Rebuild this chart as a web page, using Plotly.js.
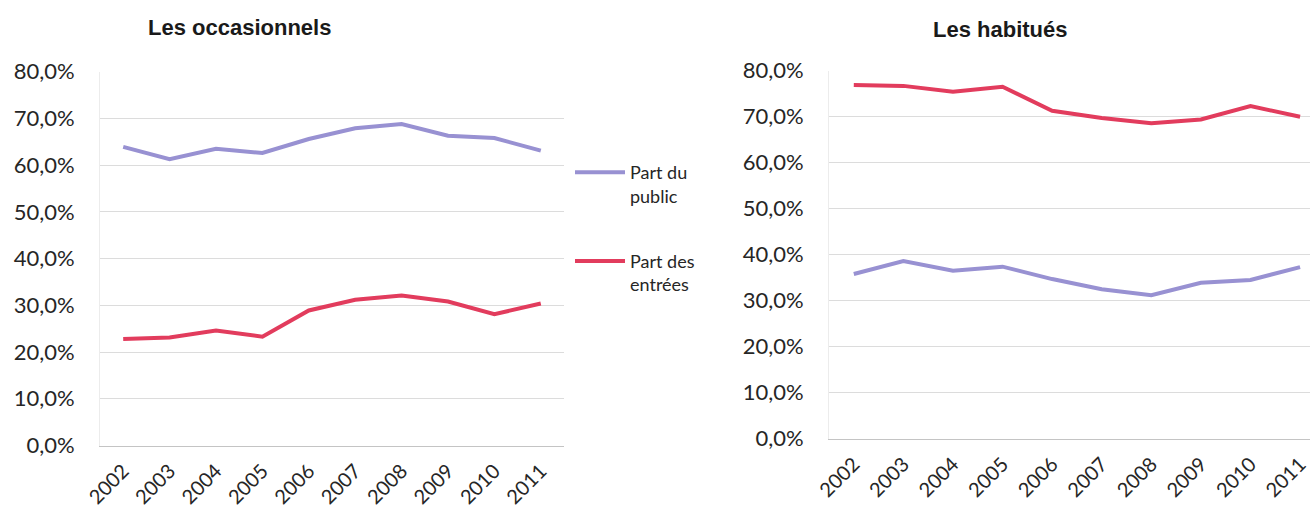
<!DOCTYPE html>
<html lang="fr">
<head>
<meta charset="utf-8">
<script src="https://cdn.plot.ly/plotly-3.0.1.min.js"></script>
<style>
  html, body { margin: 0; padding: 0; background: #ffffff; overflow: hidden; }
  #chart { width: 1310px; height: 517px; }
</style>
</head>
<body>
<div id="chart"></div>
<script>
// Années
const years = ['2002', '2003', '2004', '2005', '2006', '2007', '2008', '2009', '2010', '2011'];

// Les occasionnels
const occPublic  = [0.639, 0.613, 0.635, 0.626, 0.656, 0.679, 0.688, 0.663, 0.658, 0.631];
const occEntrees = [0.228, 0.231, 0.246, 0.233, 0.289, 0.312, 0.321, 0.308, 0.281, 0.304];

// Les habitués
const habPublic  = [0.358, 0.386, 0.365, 0.374, 0.347, 0.325, 0.312, 0.339, 0.345, 0.373];
const habEntrees = [0.769, 0.767, 0.754, 0.765, 0.713, 0.697, 0.686, 0.694, 0.723, 0.700];

const seriesNames = ['Part du<br>public', 'Part des<br>entrées'];
const panelTitles = ['Les occasionnels', 'Les habitués'];

const colPublic = '#9891d2';
const colEntrees = '#e23c5d';
const W = 1310, H = 517;

const tickFont = { family: 'Lato, "Open Sans", sans-serif', size: 22, color: '#262626' };
const yearFont = { family: 'Lato, "Open Sans", sans-serif', size: 20, color: '#262626' };
const titleFont = { family: '"Liberation Sans", Arial, sans-serif', size: 22, color: '#1a1a1a', weight: 'bold' };

function line(x, y, name, color, xa, ya, show, group) {
  return {
    type: 'scatter', mode: 'lines', x: x, y: y, name: name,
    xaxis: xa, yaxis: ya, showlegend: show, legendgroup: group,
    line: { color: color, width: 4, shape: 'linear' },
    hoverinfo: 'skip'
  };
}

const traces = [
  line(years, occPublic, seriesNames[0], colPublic, 'x', 'y', true, 'g1'),
  line(years, occEntrees, seriesNames[1], colEntrees, 'x', 'y', true, 'g2'),
  line(years, habEntrees, seriesNames[1], colEntrees, 'x2', 'y2', false, 'g2'),
  line(years, habPublic, seriesNames[0], colPublic, 'x2', 'y2', false, 'g1')
];

function yAxis(domain, anchor) {
  return {
    domain: domain, anchor: anchor, range: [0, 0.8], dtick: 0.1,
    tickformat: '.1%', tickfont: tickFont, ticklabelstandoff: 20,
    showgrid: true, gridcolor: '#dcdcdc', gridwidth: 1,
    zeroline: false, showline: true, linecolor: '#ececec', linewidth: 1,
    ticks: '', fixedrange: true
  };
}

function xAxis(domain, anchor, range) {
  return {
    domain: domain, anchor: anchor, type: 'category', range: range,
    tickangle: -45, tickfont: yearFont, showgrid: false, zeroline: false,
    showline: true, linecolor: '#c4c4c4', linewidth: 1,
    ticks: '', ticklabelstandoff: 5, fixedrange: true
  };
}

const layout = {
  width: W, height: H,
  margin: { l: 0, r: 0, t: 0, b: 0 },
  paper_bgcolor: '#ffffff', plot_bgcolor: '#ffffff',
  separators: ', ',
  hovermode: false,
  xaxis:  xAxis([100 / W, 564 / W], 'y', [-0.5, 9.5]),
  yaxis:  yAxis([71.5 / H, 445.3 / H], 'x'),
  xaxis2: xAxis([829 / W, 1], 'y2', [-0.5, 9.2]),
  yaxis2: yAxis([78.3 / H, 446.3 / H], 'x2'),
  showlegend: true,
  legend: {
    x: 570 / W, y: 1 - 154 / H, xanchor: 'left', yanchor: 'top',
    bgcolor: 'rgba(0,0,0,0)', borderwidth: 0,
    font: { family: 'Lato, "Open Sans", sans-serif', size: 18, color: '#262626' },
    itemwidth: 50, valign: 'top', tracegroupgap: 39,
    traceorder: 'grouped'
  },
  annotations: [
    { text: panelTitles[0], xref: 'paper', yref: 'paper', x: 239 / W, y: 1 - 28 / H,
      xanchor: 'center', yanchor: 'middle', showarrow: false, font: titleFont },
    { text: panelTitles[1], xref: 'paper', yref: 'paper', x: 1000 / W, y: 1 - 30 / H,
      xanchor: 'center', yanchor: 'middle', showarrow: false, font: titleFont }
  ]
};

Plotly.newPlot('chart', traces, layout, { displayModeBar: false, staticPlot: true });
</script>
</body>
</html>
